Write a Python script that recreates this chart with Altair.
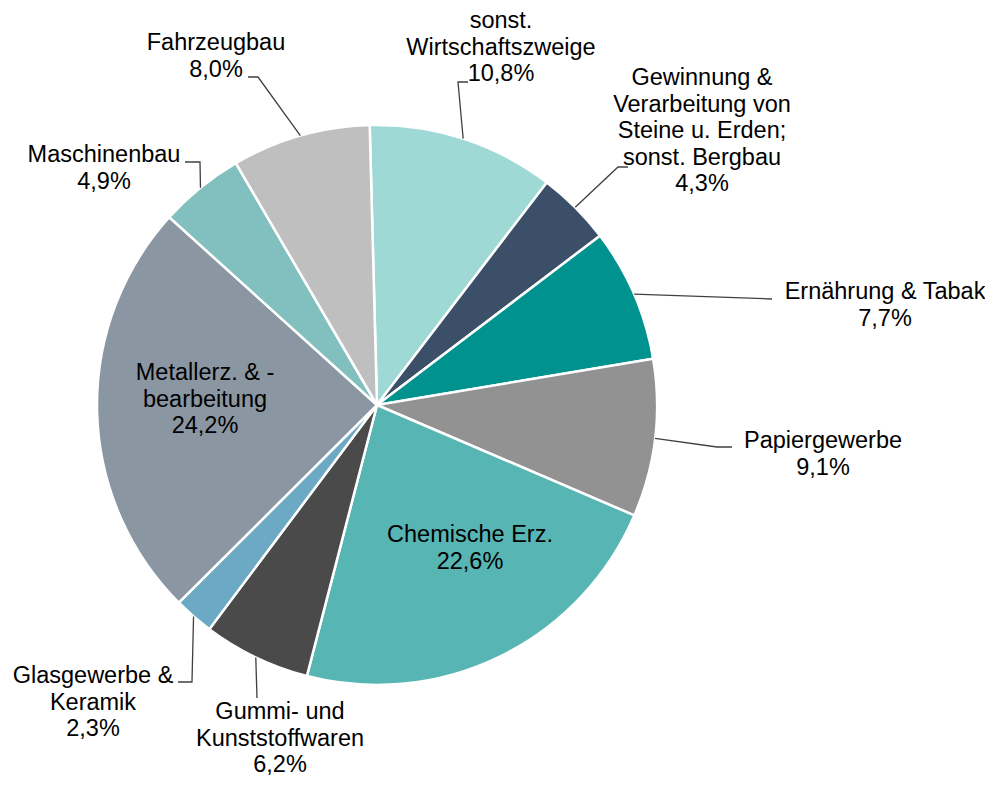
import math
import altair as alt
import pandas as pd

# ---- data ----
categories = [
    "sonst. Wirtschaftszweige",
    "Gewinnung & Verarbeitung von Steine u. Erden; sonst. Bergbau",
    "Ernährung & Tabak",
    "Papiergewerbe",
    "Chemische Erz.",
    "Gummi- und Kunststoffwaren",
    "Glasgewerbe & Keramik",
    "Metallerz. & -bearbeitung",
    "Maschinenbau",
    "Fahrzeugbau",
]
values = [10.8, 4.3, 7.7, 9.1, 22.6, 6.2, 2.3, 24.2, 4.9, 8.0]
label_lines = [
    ["sonst.", "Wirtschaftszweige"],
    ["Gewinnung &", "Verarbeitung von", "Steine u. Erden;", "sonst. Bergbau"],
    ["Ernährung & Tabak"],
    ["Papiergewerbe"],
    ["Chemische Erz."],
    ["Gummi- und", "Kunststoffwaren"],
    ["Glasgewerbe &", "Keramik"],
    ["Metallerz. & -", "bearbeitung"],
    ["Maschinenbau"],
    ["Fahrzeugbau"],
]
colors = ["#9fd9d6", "#3c4f68", "#00928f", "#929292", "#57b5b3",
          "#4a4a4a", "#6ca9c4", "#8b96a3", "#82c0bf", "#bfbfbf"]

# ---- layout (pixels inside the chart) ----
OFF = 8
cx, cy, R = 377 - OFF, 405 - OFF, 280
start = math.radians(-1.5)
label_pos = [(501, 28), (702, 85), (885, 299), (823, 448), (470, 542),
             (280, 719), (93, 683), (205, 380), (104, 162), (216, 50)]
stubs = [
    [(468, 82), (458, 82)],
    [(628, 167), (618, 167)],
    [(772, 299)],
    [(732, 447), (717, 447)],
    None,
    [(257, 698)],
    [(178, 682), (192, 682)],
    None,
    [(185, 162), (200, 162)],
    [(248, 77), (258, 77)],
]

total = sum(values)
pie_df = pd.DataFrame({"idx": range(len(values)), "cat": categories, "value": values})

texts = []
lines = []
cum = 0.0
for i, v in enumerate(values):
    mid = (cum + v / 2) / total
    cum += v
    ang = start + mid * 2 * math.pi
    ex, ey = cx + R * math.sin(ang), cy - R * math.cos(ang)
    pct = f"{v:.1f}".replace(".", ",") + "%"
    lx, ly = label_pos[i]
    texts.append({"x": lx - OFF, "y": ly - OFF,
                  "t": "\n".join(label_lines[i] + [pct])})
    if stubs[i]:
        pts = [(px - OFF, py - OFF) for px, py in stubs[i]] + [(ex, ey)]
        for k, (px, py) in enumerate(pts):
            lines.append({"g": i, "o": k, "x": px, "y": py})

text_df = pd.DataFrame(texts)
line_df = pd.DataFrame(lines)

pie = alt.Chart(pie_df).mark_arc(radius=R, stroke="white", strokeWidth=2.5).encode(
    theta=alt.Theta("value:Q", stack=True,
                    scale=alt.Scale(range=[start, start + 2 * math.pi])),
    color=alt.Color("cat:N", scale=alt.Scale(domain=categories, range=colors), legend=None),
    order=alt.Order("idx:Q"),
    x=alt.value(cx),
    y=alt.value(cy),
)

leaders = alt.Chart(line_df).mark_line(color="#404040", strokeWidth=1.3).encode(
    x=alt.X("x:Q", scale=None, axis=None),
    y=alt.Y("y:Q", scale=None, axis=None),
    detail="g:N",
    order="o:Q",
)

labels = alt.Chart(text_df).mark_text(
    font="Liberation Sans", fontSize=23.5, lineBreak="\n", lineHeight=26.6,
    align="center", baseline="alphabetic", color="#000000",
).encode(
    x=alt.X("x:Q", scale=None, axis=None),
    y=alt.Y("y:Q", scale=None, axis=None),
    text="t:N",
)

chart = alt.layer(pie, leaders, labels).properties(
    width=977, height=769, autosize="none", padding=0, background="white"
).configure_view(stroke=None)

chart.save("out.html", embed_options={"renderer": "svg", "actions": False})
